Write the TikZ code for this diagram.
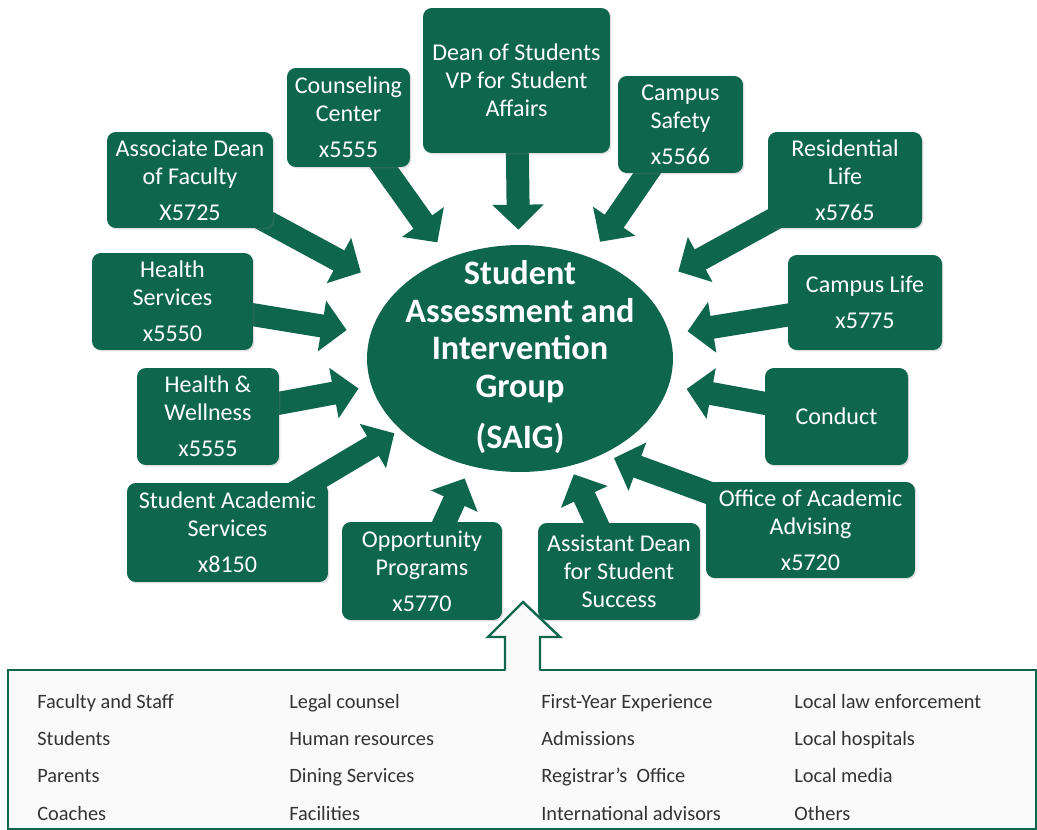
\documentclass[tikz,border=0pt]{standalone}
\usepackage{fontspec}
\setmainfont{Carlito}
\usepackage{tikz}
\usetikzlibrary{positioning}
\usetikzlibrary{backgrounds, shapes}
\usetikzlibrary{arrows.meta}
\usetikzlibrary{shadows}
\definecolor{saiggreen}{RGB}{14,102,77}
\definecolor{listgray}{RGB}{51,51,51}

\begin{document}
\begin{tikzpicture}[x=0.02cm, y=-0.02cm,
		office/.style={fill=saiggreen, rounded corners=5pt, text=white,
			align=center, inner sep=2pt, font=\fontsize{13.7}{16}\selectfont,
			drop shadow={opacity=0.25, shadow xshift=0.8pt, shadow yshift=-0.8pt}
		},
		feed/.style={saiggreen, line width=0.46cm, -{Triangle[length=0.5cm, width=1cm]}},
		item/.style={anchor=base west, text=listgray, inner sep=0pt,
			font=\fontsize{11.6}{13}\selectfont}]
		
		\useasboundingbox (0,0) rectangle (1037,830);
		
		% centre group
		\node[ellipse, fill=saiggreen, minimum width=6.12cm, minimum height=4.54cm, inner sep=0pt] (saig) at (520,358.5) {};
		\node[align=center, text=white, font=\fontsize{19.5}{21.5}\selectfont\bfseries] (saigtext) at (520,357) {Student\\Assessment and\\Intervention\\Group\\[7.4pt](SAIG)};
		
		% offices round the group
		\node[office, minimum width=3.32cm, minimum height=1.92cm] (assoc) at (190,180) {Associate Dean\\of Faculty\\[4.5pt]X5725};
		\node[office, minimum width=2.46cm, minimum height=1.98cm] (couns) at (348.5,117.5) {Counseling\\Center\\[4.5pt]x5555};
		\node[office, minimum width=3.74cm, minimum height=2.9cm] (dean) at (516.5,80.5) {Dean of Students\\VP for Student\\Affairs};
		\node[office, minimum width=2.5cm, minimum height=1.94cm] (safety) at (680.5,124.5) {Campus\\Safety\\[4.5pt]x5566};
		\node[office, minimum width=3.08cm, minimum height=1.92cm] (resid) at (845,180) {Residential\\Life\\[4.5pt]x5765};
		\node[office, minimum width=3.22cm, minimum height=1.94cm] (hserv) at (172.5,301.5) {Health\\Services\\[4.5pt]x5550};
		\node[office, minimum width=3.08cm, minimum height=1.9cm] (clife) at (865,302.5) {Campus Life\\[4.5pt]x5775};
		\node[office, minimum width=2.84cm, minimum height=1.94cm] (hwell) at (208,416.5) {Health \&\\Wellness\\[4.5pt]x5555};
		\node[office, minimum width=2.86cm, minimum height=1.94cm] (conduct) at (836.5,416.5) {Conduct};
		\node[office, minimum width=4.02cm, minimum height=1.98cm] (sas) at (227.5,532.5) {Student Academic\\Services\\[4.5pt]x8150};
		\node[office, minimum width=3.2cm, minimum height=1.96cm] (opp) at (422,571) {Opportunity\\Programs\\[4.5pt]x5770};
		\node[office, minimum width=3.24cm, minimum height=1.94cm] (asst) at (619,571.5) {Assistant Dean\\for Student\\Success};
		\node[office, minimum width=4.18cm, minimum height=1.92cm] (oaa) at (810.5,530) {Office of Academic\\Advising\\[4.5pt]x5720};
		
		\begin{scope}[on background layer]
			\draw[feed, shorten >=0.8cm] (assoc.center) -- (saig);
			\draw[feed, shorten >=0.38cm] (couns.center) -- (saig);
			\draw[feed, shorten >=0.3cm] (dean.center) -- (saig);
			\draw[feed, shorten >=0.37cm] (safety.center) -- (saig);
			\draw[feed, shorten >=0.8cm] (resid.center) -- (saig);
			\draw[feed, shorten >=0.48cm] (hserv.center) -- (saig);
			\draw[feed, shorten >=0.36cm] (clife.center) -- (saig);
			\draw[feed, shorten >=0.26cm] (hwell.center) -- (saig);
			\draw[feed, shorten >=0.36cm] (conduct.center) -- (saig);
			\draw[feed, shorten >=0.14cm] (sas.center) -- (saig);
			\draw[feed, shorten >=0.27cm] (opp.center) -- (saig);
			\draw[feed, shorten >=0.18cm] (asst.center) -- (saig);
			\draw[feed, shorten >=0.23cm] (oaa.center) -- (saig.-49);
		\end{scope}
		
		% other partners
		\node[draw=saiggreen, line width=1.4pt, fill=gray!4, minimum width=20.56cm, minimum height=3.18cm, inner sep=0pt] (others) at (522,749.5) {};
		\fill[gray!4] (505,673) -- (505,637) -- (488,637) -- (523,602) -- (560,637) -- (540,637) -- (540,673) -- cycle;
		\draw[saiggreen, line width=1.4pt, line join=miter] (505,670.5) -- (505,637) -- (488,637) -- (523,602) -- (560,637) -- (540,637) -- (540,670.5);
		
		\node[item] (faculty) at (37,708) {Faculty and Staff};
		\node[item] (students) at (37,745) {Students};
		\node[item] (parents) at (37,782) {Parents};
		\node[item] (coaches) at (37,820) {Coaches};
		
		\node[item] (legal) at (289,708) {Legal counsel};
		\node[item] (hr) at (289,745) {Human resources};
		\node[item] (dining) at (289,782) {Dining Services};
		\node[item] (facilities) at (289,820) {Facilities};
		
		\node[item] (fye) at (541,708) {First-Year Experience};
		\node[item] (admissions) at (541,745) {Admissions};
		\node[item] (registrar) at (541,782) {Registrar’s\ \ Office};
		\node[item] (intl) at (541,820) {International advisors};
		
		\node[item] (police) at (794,708) {Local law enforcement};
		\node[item] (hospitals) at (794,745) {Local hospitals};
		\node[item] (media) at (794,782) {Local media};
		\node[item] (otherlist) at (794,820) {Others};
	\end{tikzpicture}
\end{document}
